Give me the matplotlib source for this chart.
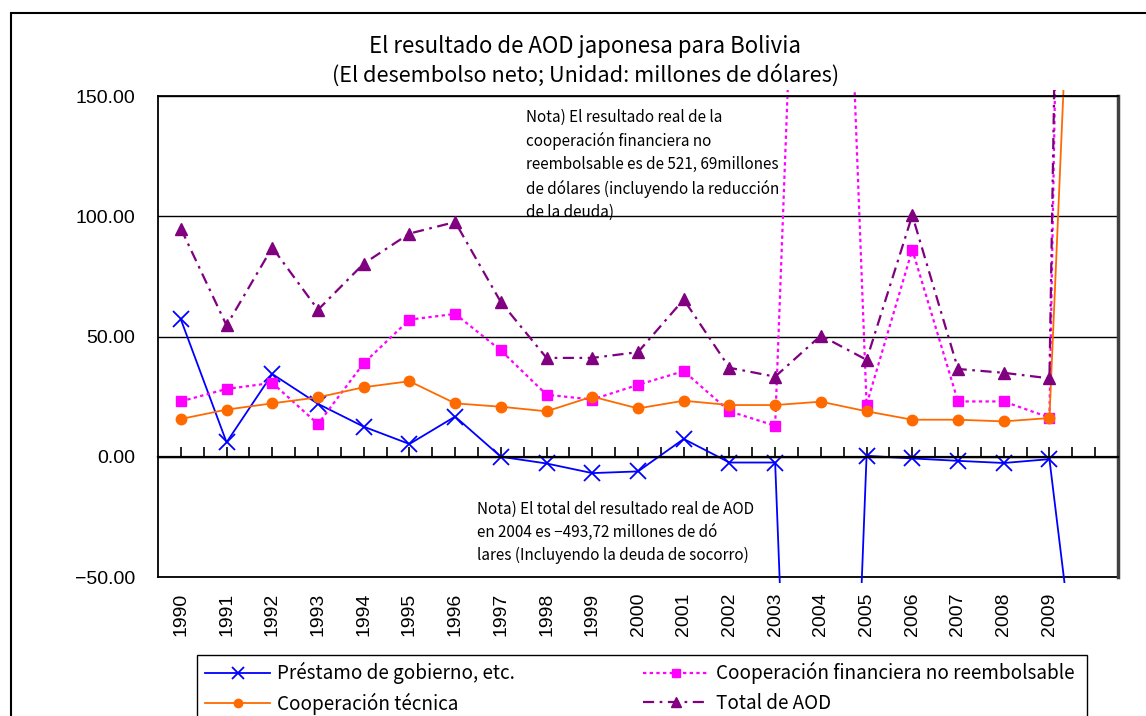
import matplotlib
matplotlib.use('Agg')
import matplotlib.pyplot as plt
from matplotlib.patches import Rectangle
from matplotlib.transforms import Bbox, TransformedBbox
from matplotlib.ticker import FuncFormatter, MultipleLocator

plt.rcParams['font.family'] = ['Noto Sans CJK JP', 'DejaVu Sans']

# ---------------------------------------------------------------
# データ(最後のカテゴリは合計、ラベルなし)
# ---------------------------------------------------------------
years = ['1990', '1991', '1992', '1993', '1994', '1995', '1996', '1997',
         '1998', '1999', '2000', '2001', '2002', '2003', '2004', '2005',
         '2006', '2007', '2008', '2009', '']
prestamo = [57.1, 6.0, 34.4, 22.0, 12.5, 5.3, 16.7, 0.0, -2.8, -6.8, -6.1,
            7.4, -2.4, -2.4, -493.72, 0.4, -0.7, -1.7, -2.6, -1.0, -157.0]
financiera = [23.0, 28.2, 30.7, 13.6, 38.9, 57.0, 59.4, 44.2, 25.8, 23.8,
              29.9, 35.6, 18.9, 12.9, 521.69, 21.7, 86.1, 23.0, 23.0, 16.3,
              1134.0]
tecnica = [15.7, 19.6, 22.2, 24.7, 28.9, 31.4, 22.2, 20.8, 18.9, 25.0, 20.1,
           23.3, 21.5, 21.5, 22.9, 18.9, 15.4, 15.4, 14.7, 16.1, 460.0]
total_aod = [94.9, 54.6, 87.0, 61.1, 80.3, 92.8, 97.6, 64.3, 41.1, 41.1, 43.5,
             65.4, 37.0, 33.3, 50.4, 40.3, 100.4, 36.5, 34.9, 32.6, 1190.0]

W, H = 1146, 716
fig = plt.figure(figsize=(W / 100, H / 100), dpi=100)
ax = fig.add_axes([158 / W, 1 - 577 / H, (1118 - 158) / W, (577 - 96) / H])

x = list(range(len(years)))

# 系列(Excel の系列順で描画)
l_pre, = ax.plot(x, prestamo, color='#0000ff', lw=1.3, marker='x', ms=11,
                 mew=1.3, label='Préstamo de gobierno, etc.')
l_fin, = ax.plot(x, financiera, color='#ff00ff', lw=1.6, dashes=(1.5, 1.5),
                 marker='s', ms=7, label='Cooperación financiera no reembolsable')
l_tec, = ax.plot(x, tecnica, color='#ff6a00', lw=1.3, marker='o', ms=7.5,
                 label='Cooperación técnica')
l_tot, = ax.plot(x, total_aod, color='#800080', lw=1.6,
                 dashes=(5, 2.5, 1.2, 2.5), marker='^', ms=9,
                 label='Total de AOD')

# 線はプロット領域の上下に少しはみ出して描かれる
clip = TransformedBbox(Bbox([[0, -0.013], [1, 1.013]]), ax.transAxes)
for ln in (l_pre, l_fin, l_tec, l_tot):
    ln.set_clip_path(None)
    ln.set_clip_box(clip)

ax.set_xlim(-0.5, len(years) - 0.5)
ax.set_ylim(-50, 150)

# y 軸
ax.yaxis.set_major_locator(MultipleLocator(50))
ax.yaxis.set_major_formatter(
    FuncFormatter(lambda v, p: f'{v:.2f}'.replace('-', '\u2212')))
ax.tick_params(axis='y', length=0, pad=16.5, labelsize=14)
for lab in ax.get_yticklabels():
    lab.set_family('Liberation Sans')
ax.yaxis.grid(True, color='black', lw=1.0)
ax.set_axisbelow(True)
ax.axhline(-50, color='black', lw=1.3, clip_on=False, zorder=0.5)

# x 軸(0 の位置に軸線、目盛りは上向き)
ax.spines['bottom'].set_position(('data', 0))
ax.spines['bottom'].set_linewidth(1.6)
ax.set_xticks([i * 0.5 for i in range(2 * len(years) - 1)])
ax.tick_params(axis='x', direction='in', length=7, width=1.2,
               labelbottom=False)
for sp in ('left', 'top'):
    ax.spines[sp].set_linewidth(1.3)
ax.spines['right'].set_linewidth(2.5)
ax.spines['right'].set_color('#404040')

for i, yr in enumerate(years):
    ax.text(i, -0.033, yr, transform=ax.get_xaxis_transform(), rotation=90,
            ha='center', va='top', fontsize=14, family='Liberation Sans')

# タイトル
fig.text(585 / W, 1 - 46 / H, 'El resultado de AOD japonesa para Bolivia',
         ha='center', va='center', fontsize=16)
fig.text(586 / W, 1 - 76 / H,
         '(El desembolso neto; Unidad: millones de dólares)',
         ha='center', va='center', fontsize=15.6)

# 注記
note1 = ('Nota) El resultado real de la\n'
         'cooperación financiera no\n'
         'reembolsable es de 521, 69millones\n'
         'de dólares (incluyendo la reducción\n'
         'de la deuda)')
fig.text(526 / W, 1 - 109 / H, note1, ha='left', va='top', fontsize=11,
         linespacing=1.45)
note2 = ('Nota) El total del resultado real de AOD\n'
         'en 2004 es \u2212493,72 millones de dó\n'
         'lares (Incluyendo la deuda de socorro)')
fig.text(477 / W, 1 - 501 / H, note2, ha='left', va='top', fontsize=11,
         linespacing=1.45)

# 凡例
fig.legend(handles=[l_pre, l_tec, l_fin, l_tot], ncol=2, loc='upper left',
           bbox_to_anchor=(205 / W, 1 - 662 / H), frameon=False, fontsize=13.6,
           handlelength=3.45, handletextpad=0.37, columnspacing=6.8,
           labelspacing=0.45, borderaxespad=0, borderpad=0, markerscale=0.8)
fig.patches.append(Rectangle((197 / W, -0.05), (1087 - 197) / W,
                             (716 - 655) / H + 0.05, transform=fig.transFigure,
                             fill=False, ec='black', lw=1.0))

# グラフ全体の枠
fig.patches.append(Rectangle((11 / W, -0.1), 1.2, (716 - 13) / H + 0.1,
                             transform=fig.transFigure, fill=False,
                             ec='black', lw=1.5))

fig.savefig('out.png', dpi=100)
